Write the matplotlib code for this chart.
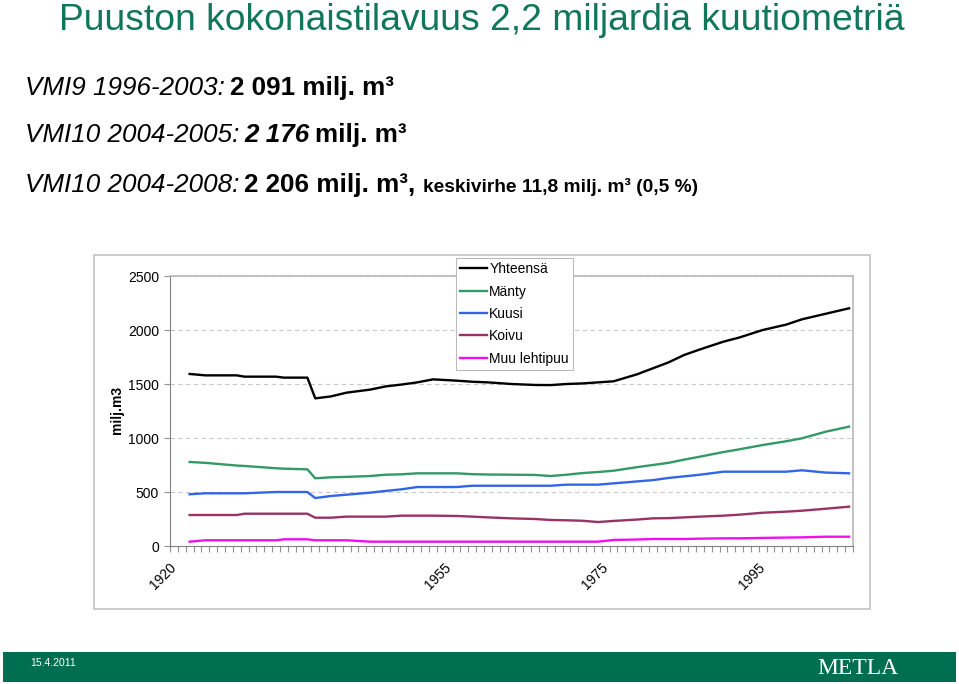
import matplotlib
matplotlib.use("Agg")
from matplotlib import pyplot as plt
from matplotlib.patches import Rectangle

# volume of growing stock, million m3
years = [1922, 1924, 1928, 1929, 1933, 1934, 1937, 1938, 1940, 1942, 1945, 1947,
         1949, 1951, 1953, 1956, 1958, 1960, 1963, 1966, 1968, 1970, 1972, 1974,
         1976, 1979, 1981, 1983, 1985, 1987, 1990, 1992, 1995, 1998, 2000, 2003, 2006]
yhteensa = [1593, 1580, 1580, 1568, 1568, 1559, 1559, 1367, 1385, 1420, 1448, 1478,
            1495, 1515, 1543, 1531, 1521, 1515, 1500, 1491, 1490, 1500, 1505, 1515,
            1525, 1590, 1645, 1700, 1769, 1820, 1892, 1930, 2000, 2050, 2099, 2150, 2201]
manty = [778, 770, 745, 741, 720, 716, 710, 627, 636, 640, 648, 660,
         664, 673, 673, 673, 665, 662, 660, 658, 648, 660, 675, 685,
         697, 730, 750, 770, 800, 827, 870, 895, 935, 970, 997, 1058, 1105]
kuusi = [479, 488, 488, 488, 500, 500, 500, 444, 463, 475, 494, 510,
         525, 546, 546, 546, 558, 558, 558, 558, 558, 568, 568, 568,
         580, 598, 610, 630, 645, 660, 688, 688, 688, 688, 701, 680, 673]
koivu = [287, 287, 287, 299, 299, 299, 299, 262, 262, 272, 272, 272,
         281, 281, 281, 278, 272, 265, 256, 250, 241, 238, 234, 222,
         232, 245, 256, 258, 265, 272, 281, 290, 308, 318, 327, 345, 364]
muu_lehtipuu = [40, 53, 53, 53, 53, 62, 62, 53, 53, 53, 40, 40,
                40, 40, 40, 40, 40, 40, 40, 40, 40, 40, 40, 40,
                56, 60, 65, 65, 65, 68, 71, 71, 75, 78, 80, 86, 86]

series = [("Yhteensä", yhteensa, "black"),
          ("Mänty", manty, "#339966"),
          ("Kuusi", kuusi, "#3366e6"),
          ("Koivu", koivu, "#993366"),
          ("Muu lehtipuu", muu_lehtipuu, "#ee10ee")]
tick_years = [1920, 1955, 1975, 1995]

W, H = 959, 684
fig = plt.figure(figsize=(W / 100, H / 100), dpi=100)


def fx(px):
    return px / W


def fy(py):
    return 1 - py / H


narrow = ["Liberation Sans Narrow", "Liberation Sans", "DejaVu Sans"]
arial = ["Liberation Sans", "DejaVu Sans"]
green = "#11775a"

fig.text(fx(482), fy(30), "Puuston kokonaistilavuus 2,2 miljardia kuutiometriä",
         ha="center", va="baseline", color=green, fontsize=26.8, family=narrow)

renderer = fig.canvas.get_renderer()


def text_line(x, y, pieces):
    for s, size, style, weight, gap in pieces:
        t = fig.text(fx(x), fy(y), s, va="baseline", fontsize=size, style=style,
                     weight=weight, family=narrow)
        x += t.get_window_extent(renderer).width + gap


text_line(25, 95, [("VMI9 1996-2003:", 18.7, "italic", "normal", 5),
                   ("2 091 milj. m³", 18.7, "normal", "bold", 0)])
text_line(25, 142, [("VMI10 2004-2005:", 18.7, "italic", "normal", 5),
                    ("2 176", 18.7, "italic", "bold", 5),
                    ("milj. m³", 18.7, "normal", "bold", 0)])
text_line(25, 192, [("VMI10 2004-2008:", 18.7, "italic", "normal", 5),
                    ("2 206 milj. m³,", 18.7, "normal", "bold", 7),
                    ("keskivirhe 11,8 milj. m³ (0,5 %)", 13.8, "normal", "bold", 0)])

# chart frame
fig.add_artist(Rectangle((fx(94), fy(609)), fx(870) - fx(94), (609 - 255) / H,
                         transform=fig.transFigure, facecolor="white",
                         edgecolor="#c4c4c4", lw=1.2, zorder=0))

ax = fig.add_axes([fx(170), fy(546), fx(853) - fx(170), (546 - 276) / H])
for name, vals, col in series:
    ax.plot(years, vals, color=col, lw=1.7, label=name)

ax.set_xlim(1919.5, 2006.5)
ax.set_ylim(0, 2500)
ax.set_yticks(range(0, 2501, 500))
ax.set_xticks(tick_years)
ax.set_xticks([1919.5 + k for k in range(88)], minor=True)
ax.set_xticklabels([str(y) for y in tick_years], rotation=45, ha="right",
                   va="center", rotation_mode="anchor", fontsize=10, family=arial)
ax.tick_params(axis="x", which="major", length=0, pad=14)
ax.tick_params(axis="x", which="minor", length=4, color="#909090", width=0.8)
ax.tick_params(axis="y", length=4, color="#909090", pad=4, labelsize=10)
for lab in ax.get_yticklabels():
    lab.set_family(arial)
ax.grid(axis="y", color="#c8c8c8", lw=0.8, dashes=(4, 3))
ax.set_axisbelow(True)
for side in ["left", "bottom"]:
    ax.spines[side].set_color("#808080")
for side in ["top", "right"]:
    ax.spines[side].set_color("#b8b8b8")
    ax.spines[side].set_linewidth(1.2)

fig.text(fx(117), fy(410), "milj.m3", rotation=90, ha="center", va="center",
         fontsize=10, weight="bold", family=arial)

leg = fig.legend(loc="upper left", bbox_to_anchor=(fx(456), fy(258)),
                 fancybox=False, edgecolor="#bbbbbb", framealpha=1,
                 prop={"family": arial, "size": 10}, handlelength=1.9,
                 handletextpad=0.2, labelspacing=0.6, borderpad=0.3,
                 borderaxespad=0)
leg.get_frame().set_linewidth(0.8)

# footer bar
fig.add_artist(Rectangle((fx(3), fy(682)), fx(956) - fx(3), (682 - 652) / H,
                         transform=fig.transFigure, facecolor="#006e50",
                         edgecolor="none"))
fig.text(fx(30), fy(663), "15.4.2011", color="white", fontsize=7.5,
         va="center", family=narrow)
fig.text(fx(858), fy(668), "METLA", color="white", fontsize=17, ha="center",
         va="center", family=["Liberation Serif", "DejaVu Serif"])

fig.savefig("out.png", dpi=100)
